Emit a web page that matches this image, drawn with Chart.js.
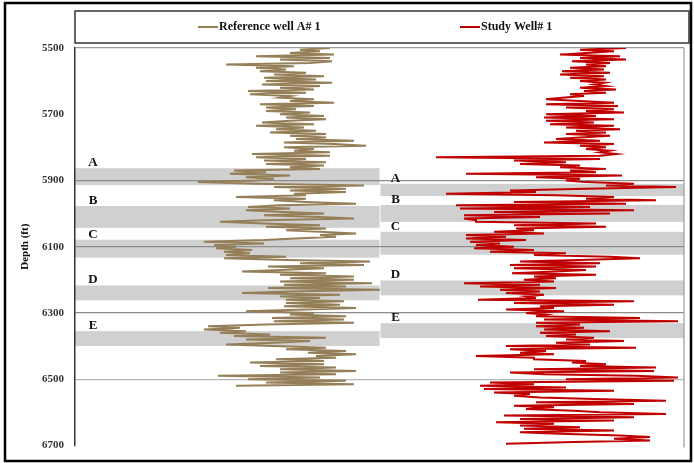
<!DOCTYPE html>
<html>
<head>
<meta charset="utf-8">
<script src="https://cdn.jsdelivr.net/npm/chart.js@4.4.1/dist/chart.umd.min.js"></script>
<style>
  html, body { margin: 0; padding: 0; background: #fff; }
  #wrap { width: 694px; height: 463px; }
</style>
</head>
<body>
<div id="wrap"><canvas id="logChart" width="694" height="463"></canvas></div>
<script>
// ===== Log samples (one value every 5 ft from 5500 ft) =====
const depthStart = 5500;
const depthStep = 5;

const refValues = [
  75, 60, 70, 55, 77, 38, 75, 50, 76, 65,
  23, 57, 38, 53, 40, 63, 47, 72, 42, 68,
  43, 76, 41, 70, 50, 67, 34, 63, 35, 55,
  50, 67, 55, 77, 40, 67, 43, 58, 43, 65,
  50, 72, 53, 73, 55, 41, 67, 38, 62, 48,
  68, 45, 73, 55, 73, 58, 87, 52, 77, 93,
  52, 67, 57, 75, 36, 75, 38, 63, 42, 73,
  43, 72, 55, 70, 27, 43, 25, 55, 33, 47,
  38, 9, 38, 92, 47, 83, 55, 83, 57, 63,
  28, 63, 47, 63, 88, 50, 34, 55, 33, 52,
  72, 42, 70, 87, 42, 20, 42, 70, 43, 73,
  53, 70, 88, 70, 78, 58, 42, 12, 42, 17,
  28,
  18, 36, 22, 35, 23, 53, 22, 53, 95, 60,
  92, 44, 72, 50, 31, 73, 50, 87, 55, 87,
  50, 96, 52, 83, 44, 100, 55, 31, 80, 50,
  70, 53, 82, 53, 80, 52, 88, 63, 33, 67,
  55, 83, 46, 82, 47, 87, 43, 14, 30, 12,
  33, 20, 45, 27, 73, 33, 65, 47, 23, 47,
  73, 53, 83, 64, 88, 68, 78, 48, 72, 35,
  72, 40, 78, 50, 88, 50, 78, 19, 70, 34,
  83, 43, 87, 28
];

const studyValues = [
  123, 100, 117, 103, 90, 120, 100, 123, 96, 115,
  103, 113, 95, 112, 91, 115, 90, 112, 95, 113,
  100, 112, 107, 113, 100, 118, 102, 113, 95, 102,
  91, 83, 100, 117, 83, 119, 93, 117, 103, 122,
  83, 108, 82, 117, 83, 107, 85, 117, 93, 120,
  98, 113, 93, 115, 100, 88, 110, 82, 117, 100,
  113, 103, 115, 110, 118, 110, 28, 110, 67, 93,
  70, 100, 90, 113, 95, 108, 43, 121, 78, 100,
  93, 103, 127, 113, 148, 103, 65, 78, 33, 88,
  117, 103, 138, 67, 123, 38, 105, 40, 127, 57,
  115, 42, 80, 42, 48, 48, 108, 67, 113, 68,
  77, 57, 82, 43, 63, 43, 73, 45, 60, 48,
  67,
  47, 77, 55, 93, 77, 115, 130, 100, 70, 110,
  65, 108, 67, 103, 88, 66, 108, 77, 88, 72,
  87, 42, 80, 50, 88, 60, 80, 63, 82, 73,
  78, 49, 127, 67, 117, 80, 87, 63, 92, 73,
  83, 78, 130, 82, 149, 78, 100, 78, 102, 82,
  115, 80, 98, 83, 107, 93, 122, 88, 105, 63,
  128, 65, 83, 70, 87, 48, 77, 77, 103, 96,
  113, 100, 138, 77, 137, 65, 82, 128, 149, 93,
  147, 55, 77, 50, 93, 52, 117, 57, 75, 67,
  80, 107, 143, 78, 127, 67, 87, 73, 97, 110,
  143, 62, 127, 70, 117, 58, 87, 70, 100, 72,
  117, 70, 90, 120, 135, 117, 135, 97, 63
];

const seriesNames = ["Reference well A# 1", "Study Well# 1"];
const seriesColors = ["#957f58", "#c00000"];

// ===== Correlated zones (ft) =====
const zoneNames = ["A", "B", "C", "D", "E"];
const refZoneTop = [5863, 5977, 6079, 6217, 6355];
const refZoneBase = [5914, 6043, 6133, 6262, 6400];
const studyZoneTop = [5910, 5974, 6055, 6202, 6331];
const studyZoneBase = [5947, 6025, 6124, 6247, 6376];

const depthMin = 5500;
const depthMax = 6700;
const depthTickStep = 200;
const markerDepths = [5900, 6100, 6300, 6500];

const serif = "'Liberation Serif', 'Times New Roman', serif";

function toPoints(values) {
  return values.map((v, i) => ({ x: v, y: depthStart + i * depthStep }));
}

// ===== Zones, labels, frame, legend =====
const zonePlugin = {
  id: "zones",
  beforeDraw(chart) {
    const { ctx, chartArea, scales } = chart;
    const mid = (chartArea.left + chartArea.right) / 2;
    ctx.save();
    ctx.fillStyle = "#d0d0d0";
    zoneNames.forEach((z, i) => {
      let t = scales.y.getPixelForValue(refZoneTop[i]);
      let b = scales.y.getPixelForValue(refZoneBase[i]);
      ctx.fillRect(chartArea.left, t, mid - chartArea.left, b - t);
      t = scales.y.getPixelForValue(studyZoneTop[i]);
      b = scales.y.getPixelForValue(studyZoneBase[i]);
      ctx.fillRect(mid + 1, t, chartArea.right - mid - 1, b - t);
    });
    ctx.restore();
  },
  afterDraw(chart) {
    const { ctx, chartArea, scales } = chart;
    const mid = (chartArea.left + chartArea.right) / 2;
    ctx.save();

    // zone letters
    ctx.fillStyle = "#111";
    ctx.font = "bold 13px " + serif;
    ctx.textAlign = "center";
    ctx.textBaseline = "alphabetic";
    zoneNames.forEach((z, i) => {
      ctx.fillText(z, chartArea.left + 18, scales.y.getPixelForValue(refZoneTop[i]) - 2);
      ctx.fillText(z, mid + 16, scales.y.getPixelForValue(studyZoneTop[i]) - 2);
    });

    // right border of plot
    ctx.strokeStyle = "#999";
    ctx.lineWidth = 1.2;
    ctx.beginPath();
    ctx.moveTo(chartArea.right, chartArea.top);
    ctx.lineTo(chartArea.right, chartArea.bottom + 2);
    ctx.stroke();

    // legend box
    ctx.strokeStyle = "#333";
    ctx.lineWidth = 1.5;
    ctx.strokeRect(chartArea.left, 11, 614, 32);

    const items = [
      { x: 198, i: 0 },
      { x: 460, i: 1 }
    ];
    ctx.font = "bold 12px " + serif;
    ctx.textAlign = "left";
    ctx.textBaseline = "middle";
    items.forEach(it => {
      const ds = chart.data.datasets[it.i];
      ctx.strokeStyle = ds.borderColor;
      ctx.lineWidth = 2;
      ctx.beginPath();
      ctx.moveTo(it.x, 27);
      ctx.lineTo(it.x + 20, 27);
      ctx.stroke();
      ctx.fillStyle = "#111";
      ctx.fillText(ds.label, it.x + 21, 27);
    });

    // outer frame
    ctx.strokeStyle = "#000";
    ctx.lineWidth = 2.5;
    ctx.strokeRect(5, 3, 686, 458);
    ctx.restore();
  }
};

const chart = new Chart(document.getElementById("logChart"), {
  type: "scatter",
  data: {
    datasets: [
      {
        label: seriesNames[0],
        data: toPoints(refValues),
        xAxisID: "xRef",
        yAxisID: "y",
        showLine: true,
        borderColor: seriesColors[0],
        backgroundColor: seriesColors[0],
        borderWidth: 2,
        pointRadius: 0,
        tension: 0
      },
      {
        label: seriesNames[1],
        data: toPoints(studyValues),
        xAxisID: "xStudy",
        yAxisID: "y",
        showLine: true,
        borderColor: seriesColors[1],
        backgroundColor: seriesColors[1],
        borderWidth: 2,
        pointRadius: 0,
        tension: 0
      }
    ]
  },
  options: {
    responsive: false,
    devicePixelRatio: 1,
    animation: false,
    layout: { padding: { top: 48, right: 10, bottom: 15, left: 0 } },
    plugins: {
      legend: { display: false },
      tooltip: { enabled: false }
    },
    scales: {
      xRef: { type: "linear", display: false, min: -52.5, max: 252 },
      xStudy: { type: "linear", display: false, min: -152.5, max: 152 },
      y: {
        type: "linear",
        position: "left",
        reverse: true,
        min: depthMin,
        max: depthMax,
        afterFit(scale) { scale.width = 75; },
        ticks: {
          stepSize: depthTickStep,
          color: "#333",
          padding: 11,
          callback: v => String(v),
          font: { family: serif, size: 11, weight: "bold" }
        },
        grid: {
          drawTicks: false,
          color: c => {
            if (c.tick && c.tick.value === depthMin) return "#999";
            if (c.tick && markerDepths.includes(c.tick.value)) {
              return c.tick.value === 6500 ? "#b5b5b5" : "#8c8c8c";
            }
            return "rgba(0,0,0,0)";
          },
          lineWidth: 1.3
        },
        border: { display: true, color: "#333", width: 1.5 },
        title: {
          display: true,
          text: "Depth (ft)",
          color: "#111",
          padding: { top: 19, bottom: 0 },
          font: { family: serif, size: 11, weight: "bold" }
        }
      }
    }
  },
  plugins: [zonePlugin]
});
</script>
</body>
</html>
